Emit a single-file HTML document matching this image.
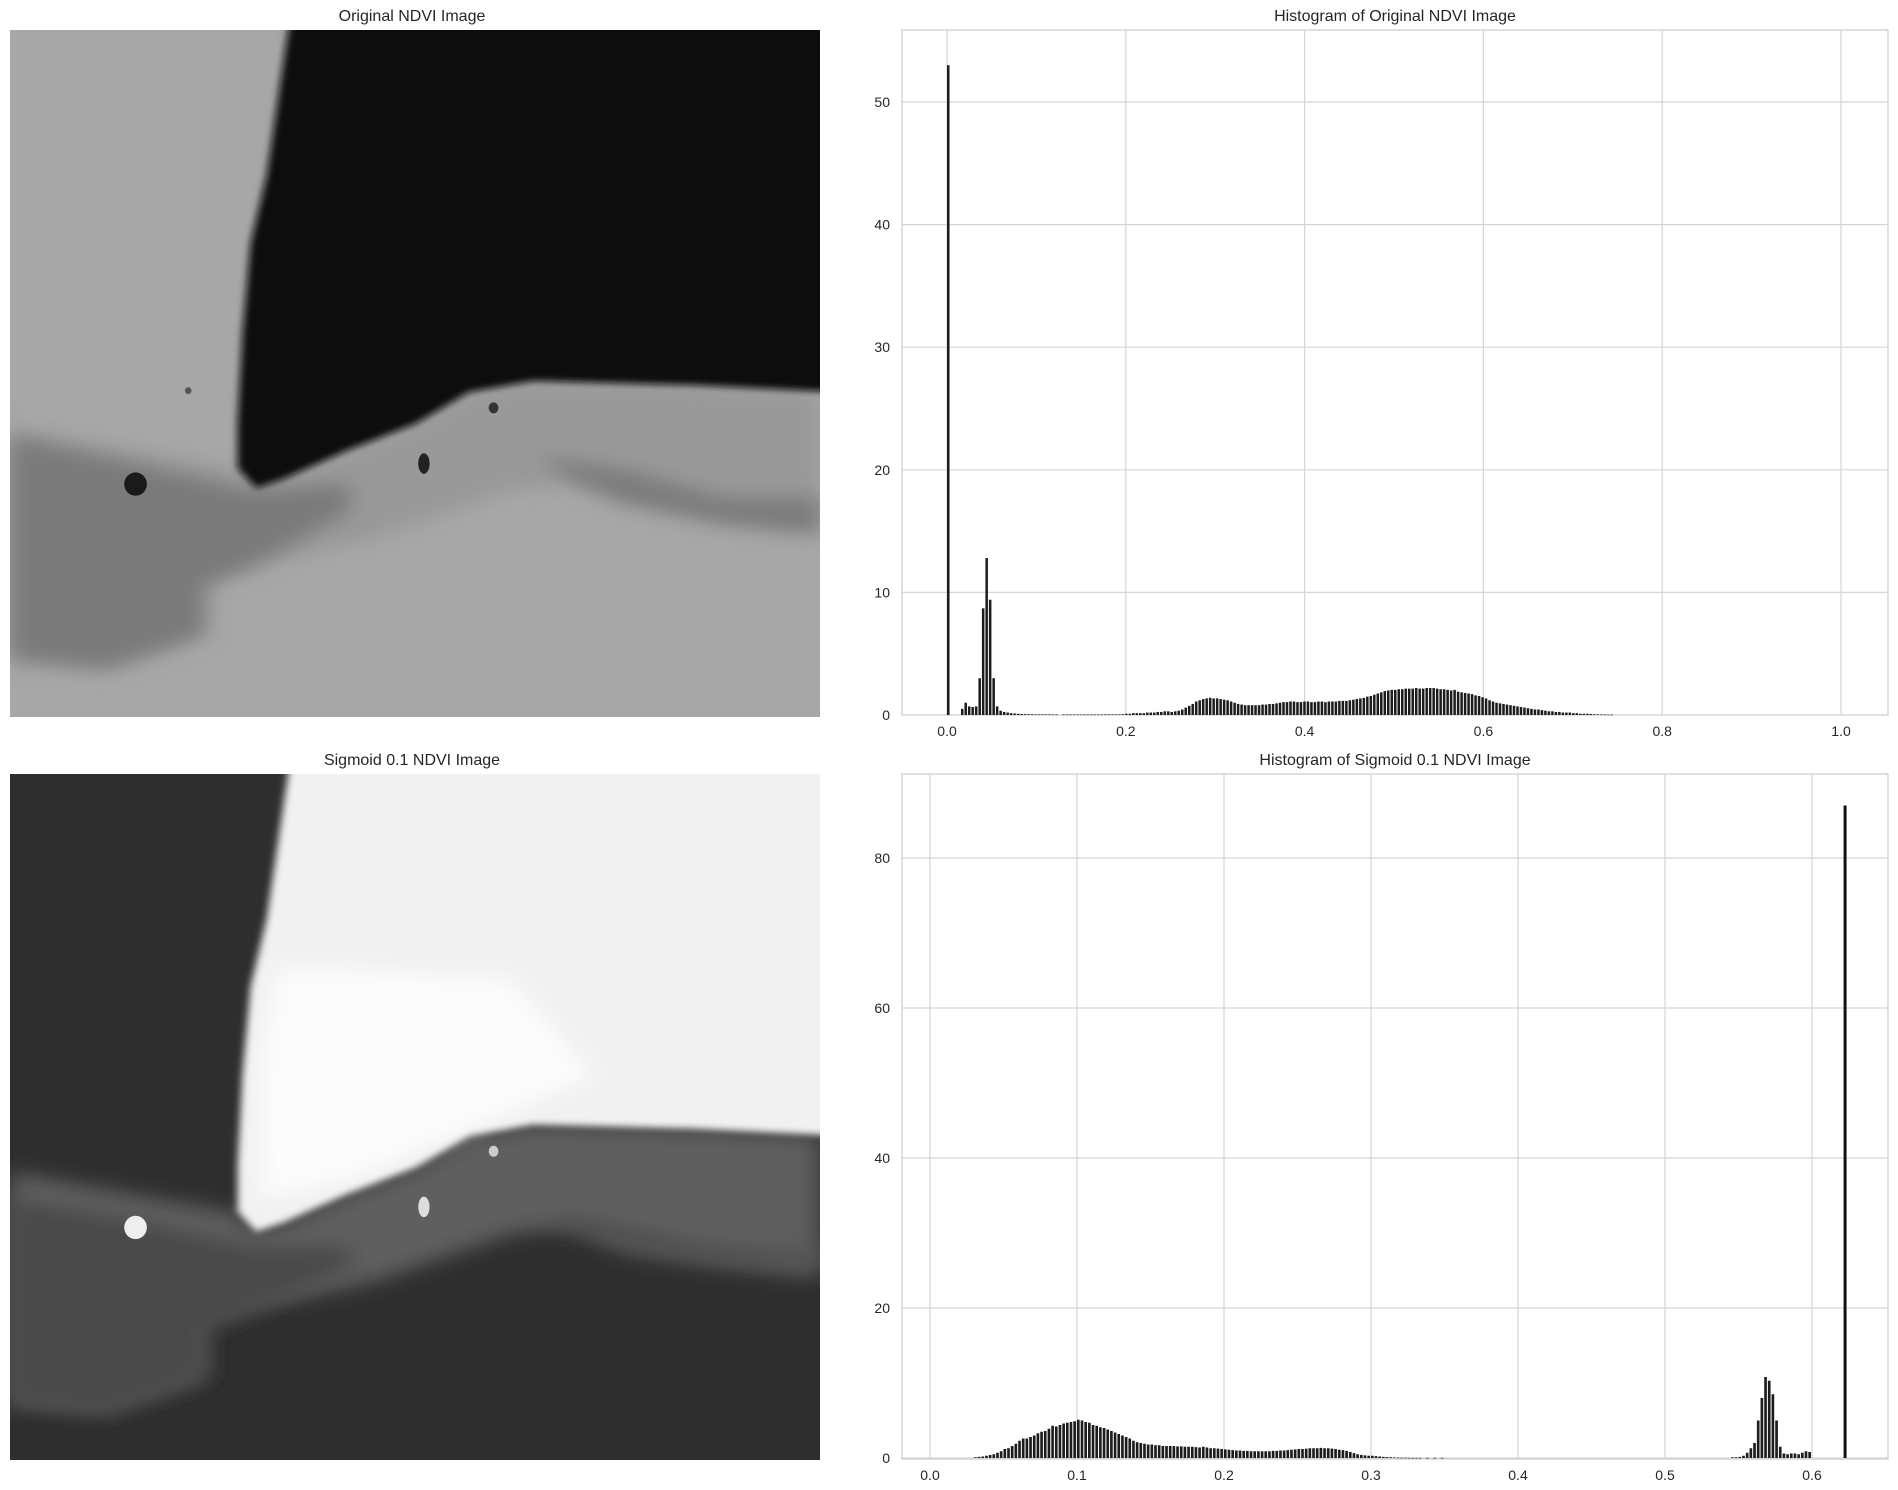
<!DOCTYPE html>
<html><head><meta charset="utf-8"><style>
html,body{margin:0;padding:0;background:#fff;}
svg{display:block;font-family:"Liberation Sans",sans-serif;}
</style></head><body>
<svg id="root" width="1898" height="1490" viewBox="0 0 1898 1490">
<defs>
  <filter id="blur" x="-20%" y="-20%" width="140%" height="140%"><feGaussianBlur stdDeviation="5"/></filter>
  <filter id="blur2" x="-20%" y="-20%" width="140%" height="140%"><feGaussianBlur stdDeviation="14"/></filter>
</defs>

<text x="412" y="21" text-anchor="middle" font-size="16" fill="#262626">Original NDVI Image</text>
<text x="1395" y="21" text-anchor="middle" font-size="16" fill="#262626">Histogram of Original NDVI Image</text>
<text x="412" y="765" text-anchor="middle" font-size="16" fill="#262626">Sigmoid 0.1 NDVI Image</text>
<text x="1395" y="765" text-anchor="middle" font-size="16" fill="#262626">Histogram of Sigmoid 0.1 NDVI Image</text>

<!-- Original image -->
<svg x="10" y="30" width="810" height="687" viewBox="0 0 1000 1000" preserveAspectRatio="none" overflow="hidden">
  <rect width="1000" height="1000" fill="#a7a7a7"/>
  <polygon filter="url(#blur2)" fill="#999" points="0,580 280,640 300,667 337,654 416,612 501,573 567,527 646,511 844,517 1000,527 1000,720 850,700 700,660 620,670 450,740 300,780 240,800 240,880 120,930 0,920"/>
  <polygon filter="url(#blur2)" fill="#7a7a7a" points="0,590 150,630 300,670 420,660 420,700 300,780 240,810 240,880 120,930 0,915"/>
  <polygon filter="url(#blur2)" fill="#7c7c7c" points="650,620 760,640 880,680 1000,680 1000,735 880,720 760,690 700,660"/>
  <polygon filter="url(#blur)" fill="#0b0b0b" points="346,-20 1020,-20 1020,527 844,517 646,511 567,527 501,573 416,612 337,654 304,667 281,638 281,570 287,440 297,310 317,210 337,50"/>
  <ellipse cx="155" cy="661" rx="14" ry="17" fill="#1a1a1a"/>
  <ellipse cx="511" cy="631" rx="7" ry="15" fill="#222"/>
  <ellipse cx="597" cy="550" rx="6" ry="8" fill="#333"/>
  <ellipse cx="220" cy="525" rx="4" ry="5" fill="#555"/>
</svg>

<!-- Sigmoid image -->
<svg x="10" y="774" width="810" height="686" viewBox="0 0 1000 1000" preserveAspectRatio="none" overflow="hidden">
  <rect width="1000" height="1000" fill="#2e2e2e"/>
  <polygon filter="url(#blur2)" fill="#5e5e5e" points="0,580 280,640 300,667 337,654 416,612 501,573 567,527 646,511 844,517 1000,527 1000,720 850,700 700,660 620,670 450,740 300,780 240,800 240,880 120,930 0,920"/>
  <polygon filter="url(#blur2)" fill="#484848" points="0,620 150,650 300,690 420,690 420,720 300,780 240,810 240,880 120,930 0,915"/>
  <polygon filter="url(#blur2)" fill="#555" points="650,640 760,660 880,690 1000,690 1000,735 880,720 760,700 700,670"/>
  <polygon filter="url(#blur)" fill="#f1f1f1" points="346,-20 1020,-20 1020,527 844,517 646,511 567,527 501,573 416,612 337,654 304,667 281,638 281,570 287,440 297,310 317,210 337,50"/>
  <polygon filter="url(#blur2)" fill="#fcfcfc" points="330,280 620,300 720,440 560,520 420,590 310,620 310,420"/>
  <ellipse cx="155" cy="661" rx="14" ry="17" fill="#eee"/>
  <ellipse cx="511" cy="631" rx="7" ry="15" fill="#ddd"/>
  <ellipse cx="597" cy="550" rx="6" ry="8" fill="#ccc"/>
</svg>

<g id="histTop"></g>
<g id="histBot"></g>
</svg>

<script>
// ---- Original histogram data ----
const topBinWidth = 1/256;
const topXTicks = [0, 0.2, 0.4, 0.6, 0.8, 1.0];
const topXTickLabels = ["0.0","0.2","0.4","0.6","0.8","1.0"];
const topYTicks = [0, 10, 20, 30, 40, 50];
const topValues = [53,0,0,0,0.5,1.0,0.7,0.65,0.7,3.0,8.7,12.8,9.4,3.0,0.7,0.35,0.25,0.2,0.15,0.12,0.1,
0.08,0.07,0.06,0.06,0.05,0.05,0.05,0.05,0.05,0.04,0.04,0,0.04,0.04,0.04,0.04,0.04,0.04,0.04,0.04,0.04,0.04,0.04,0.04,0.05,0.05,0.05,0.05,0.05,0.06,
0.1,0.1,0.15,0.15,0.15,0.15,0.2,0.2,0.2,0.25,0.25,0.3,0.3,
0.25,0.3,0.35,0.45,0.6,0.75,0.9,1.1,1.2,1.3,1.35,1.4,1.35,
1.35,1.3,1.25,1.2,1.1,1.0,0.9,0.85,0.8,0.8,0.8,0.8,0.8,0.85,
0.85,0.9,0.9,0.95,1.0,1.05,1.05,1.1,1.1,1.05,1.05,1.1,
1.1,1.05,1.05,1.1,1.1,1.05,1.1,1.1,1.1,1.15,1.15,1.15,1.2,1.25,1.3,
1.35,1.4,1.5,1.55,1.65,1.75,1.85,1.95,2.0,2.05,2.05,2.1,2.1,
2.15,2.15,2.15,2.2,2.15,2.15,2.2,2.2,2.2,2.15,2.1,2.1,2.05,2.0,2.05,
1.9,1.85,1.8,1.75,1.7,1.6,1.55,1.45,1.35,1.2,1.1,1.0,0.95,0.9,0.85,
0.8,0.75,0.7,0.65,0.6,0.55,0.5,0.45,0.45,0.4,0.35,0.3,0.3,0.25,0.25,
0.2,0.2,0.2,0.15,0.15,0.1,0.1,0.1,0.08,0.06,0.05,0.04,0.04,0.03,0.03];

// ---- Sigmoid histogram data ----
const botBinWidth = 0.0025;
const botXTicks = [0, 0.1, 0.2, 0.3, 0.4, 0.5, 0.6];
const botXTickLabels = ["0.0","0.1","0.2","0.3","0.4","0.5","0.6"];
const botYTicks = [0, 20, 40, 60, 80];
const botStartA = 0.03;
const botValuesA = [0.1,0.15,0.2,0.3,0.4,0.5,0.7,0.9,
1.2,1.3,1.6,1.9,2.3,2.6,2.6,2.8,
3.0,3.3,3.5,3.6,3.9,4.3,4.2,4.4,
4.6,4.7,4.8,4.9,5.1,5.0,4.8,4.7,
4.4,4.3,4.1,4.0,3.8,3.6,3.4,3.2,
3.0,2.8,2.6,2.3,2.1,2.0,1.9,1.8,
1.8,1.7,1.7,1.6,1.6,1.6,1.6,1.55,
1.55,1.5,1.5,1.5,1.45,1.4,1.5,1.4,
1.3,1.3,1.25,1.2,1.15,1.1,1.05,1.0,
1.0,0.95,0.95,0.9,0.9,0.9,0.9,0.9,
0.9,0.95,0.95,1.0,1.0,1.05,1.1,1.15,
1.2,1.2,1.25,1.3,1.3,1.3,1.35,1.3,
1.3,1.25,1.2,1.1,1.05,0.95,0.8,0.65,
0.5,0.4,0.35,0.3,0.3,0.25,0.2,0.15,
0.12,0.1,0.08,0.06,0.05,0.04,0.03,0.02,
0.02,0.02,0,0.02,0,0.02,0,0.02];
const botStartB = 0.545;
const botValuesB = [0.1,0.1,0.15,0.3,0.7,1.3,2.0,5.0,8.0,10.8,10.3,8.5,5.0,1.5,0.6,0.5,0.6,0.6,0.5,0.7,0.9,0.8];
const botSpikeX = [0.6225];
const botSpikeV = [87];

const NS = "http://www.w3.org/2000/svg";
function mk(parent, tag, attrs){ const e=document.createElementNS(NS,tag); for(const k in attrs) e.setAttribute(k,attrs[k]); parent.appendChild(e); return e; }

function axes(g, box, xs, ys, xTicks, xLabels, yTicks){
  const f = mk(g,'rect',{x:box.l,y:box.t,width:box.r-box.l,height:box.b-box.t,fill:'#fff',stroke:'#cccccc','stroke-width':1.2});
  
  
  xTicks.forEach((v,i)=>{
    const gl = mk(g,'line',{x1:xs(v),x2:xs(v),y1:box.t,y2:box.b,stroke:'#d5d5d5','stroke-width':1.2});
    
    
    const t = mk(g,'text',{x:xs(v),y:box.b+21,'text-anchor':'middle','font-size':14,fill:'#262626'});
    
    
    t.textContent = xLabels[i];
  });
  yTicks.forEach(v=>{
    const gl = mk(g,'line',{x1:box.l,x2:box.r,y1:ys(v),y2:ys(v),stroke:'#d5d5d5','stroke-width':1.2});
    
    
    const t = mk(g,'text',{x:box.l-12,y:ys(v)+5,'text-anchor':'end','font-size':14,fill:'#262626'});
    
    
    t.textContent = String(v);
  });
}
function bars(g, xs, ys, start, w, vals, frac){
  const pw = xs(w)-xs(0);
  vals.forEach((v,i)=>{
    if(v<=0) return;
    const x0 = xs(start+i*w);
    const r = mk(g,'rect',{x:x0, y:ys(v), width:Math.max(pw*frac,0.8), height:Math.max(ys(0)-ys(v),0.6), fill:'#1c1c1c'});
    
    
  });
}

(function(){
  const g = document.getElementById('histTop');
  const box = {l:902,r:1888,t:30,b:715};
  const xs = v => 947 + v*894;
  const ys = c => 715 - c*12.26;
  axes(g, box, xs, ys, topXTicks, topXTickLabels, topYTicks);
  bars(g, xs, ys, 0, topBinWidth, topValues, 0.72);
})();
(function(){
  const g = document.getElementById('histBot');
  const box = {l:902,r:1888,t:774,b:1459};
  const xs = v => 930 + v*1470;
  const ys = c => 1458 - c*7.5;
  axes(g, box, xs, ys, botXTicks, botXTickLabels, botYTicks);
  bars(g, xs, ys, botStartA, botBinWidth, botValuesA, 0.72);
  bars(g, xs, ys, botStartB, botBinWidth, botValuesB, 0.72);
  botSpikeX.forEach((x,i)=>{
    const r = mk(g,'rect',{x:xs(x)-1.5, y:ys(botSpikeV[i]), width:3, height:ys(0)-ys(botSpikeV[i]), fill:'#111'});
    
    
  });
})();
</script>
</body></html>
